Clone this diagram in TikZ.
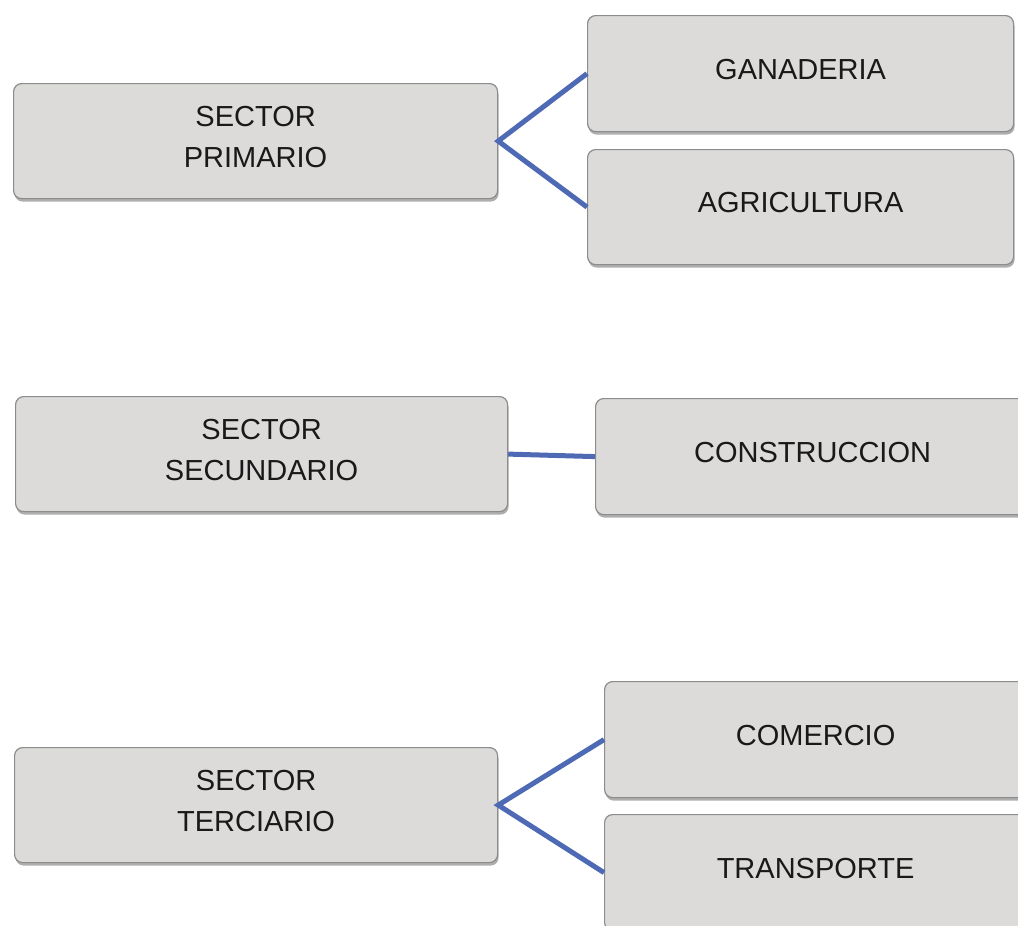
\documentclass[tikz,border=0pt]{standalone}
\usepackage{fontspec}
\setmainfont{Liberation Sans}
\usetikzlibrary{shadows}
\definecolor{boxfill}{HTML}{DCDBDA}
\definecolor{boxdraw}{HTML}{8C8C8C}
\definecolor{linkblue}{HTML}{4F6AB4}
\tikzset{
  sbox/.style={draw=boxdraw, line width=1.2pt, fill=boxfill, rounded corners=8pt,
    drop shadow={shadow xshift=1pt, shadow yshift=-3pt, opacity=0.45, fill=black!70},
    align=center, font=\fontsize{29}{41}\selectfont, text=black!90,
    inner sep=0pt, text depth=8.5pt, anchor=north west},
  link/.style={draw=linkblue, line width=5pt}
}
\begin{document}
\begin{tikzpicture}[x=1pt,y=-1pt]
\useasboundingbox (0,0) rectangle (1018,926);
% left boxes
\node[sbox, minimum width=484pt, minimum height=115pt] (prim) at (13,83) {SECTOR\\PRIMARIO};
\node[sbox, minimum width=492pt, minimum height=115pt] (secu) at (15,396) {SECTOR\\SECUNDARIO};
\node[sbox, minimum width=483pt, minimum height=115pt] (terc) at (14,747) {SECTOR\\TERCIARIO};
% right boxes
\node[sbox, minimum width=426pt, minimum height=116pt] (gana) at (587,15) {GANADERIA};
\node[sbox, minimum width=426pt, minimum height=115pt] (agri) at (587,149) {AGRICULTURA};
\node[sbox, minimum width=434pt, minimum height=116pt] (cons) at (595,398) {CONSTRUCCION};
\node[sbox, minimum width=422pt, minimum height=116pt] (come) at (604,681) {COMERCIO};
\node[sbox, minimum width=422pt, minimum height=116pt] (tran) at (604,814) {TRANSPORTE};
% connectors
\draw[link] (gana.west) -- (prim.east) -- (agri.west);
\draw[link] (secu.east) -- (cons.west);
\draw[link] (come.west) -- (terc.east) -- (tran.west);
\end{tikzpicture}
\end{document}
